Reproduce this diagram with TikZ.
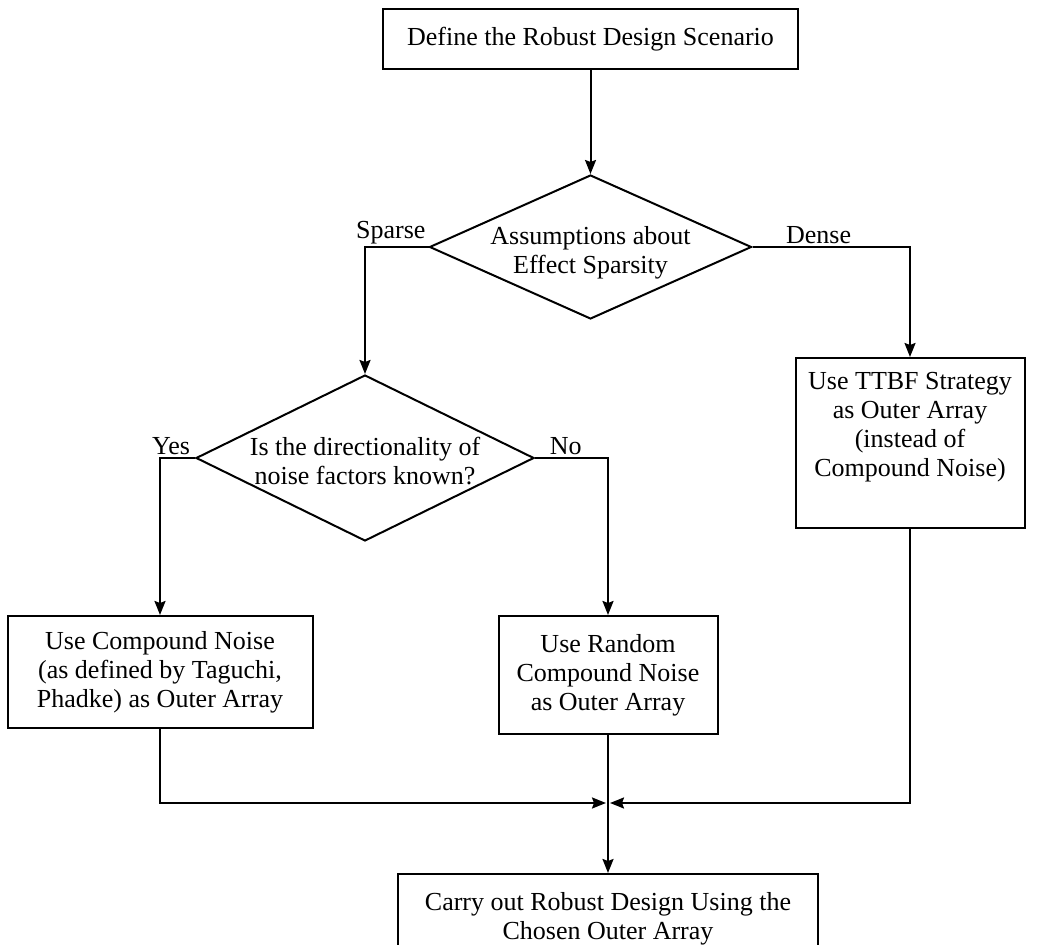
\documentclass[tikz,border=0pt]{standalone}
\usepackage{fontspec}
\setmainfont{Liberation Serif}
\usetikzlibrary{positioning,shapes.geometric,arrows.meta}

\begin{document}
\begin{tikzpicture}[
    font=\fontsize{13}{14.5}\selectfont,
    line width=1pt,
    >={Stealth[length=7pt,width=5.5pt,inset=1pt]},
    process/.style={draw, rectangle, align=center, inner sep=0pt},
    decision/.style={draw, diamond, inner sep=0pt},
    branch/.style={inner sep=1pt}
  ]
  \useasboundingbox (0,0) rectangle (522pt,-472.5pt);

  \node[process, minimum width=207.5pt, minimum height=30pt] (define) at (295.25pt,-19.5pt) {Define the Robust Design Scenario};
  \node[decision, minimum width=161pt, minimum height=72pt, below=52pt of define] (sparsity) {};
  \node[align=center] (sparsitytext) at ([yshift=-3pt]sparsity.center) {Assumptions about\\Effect Sparsity};

  \node[decision, minimum width=169pt, minimum height=83pt, below=63.5pt of sparsity.west, xshift=-31.75pt] (directional) {};
  \node[align=center] (directionaltext) at ([yshift=-1.5pt]directional.center) {Is the directionality of\\noise factors known?};

  \node[process, minimum width=114.5pt, minimum height=85pt, text depth=19pt, below=55pt of sparsity.east, xshift=78.75pt] (ttbf) {Use TTBF Strategy\\as Outer Array\\(instead of\\Compound Noise)};
  \node[process, minimum width=152.5pt, minimum height=56pt, below=78.5pt of directional.west, xshift=-17.5pt] (compound) {Use Compound Noise\\(as defined by Taguchi,\\Phadke) as Outer Array};
  \node[process, minimum width=109.5pt, minimum height=59pt, below=78.5pt of directional.east, xshift=36.5pt] (random) {Use Random\\Compound Noise\\as Outer Array};

  \coordinate[below=34pt of random.south] (junction);
  \node[process, minimum width=210pt, inner ysep=9pt, below=69pt of random.south] (carryout) {Carry out Robust Design Using the\\Chosen Outer Array};

  %define>sparsity
  \draw[->] (define.south) -- (sparsity.north);

  %sparsity>branches
  \draw[->] (sparsity.west) -| node[pos=0, anchor=south east, branch] (sparselabel) {Sparse} (directional.north);
  \draw[->] (sparsity.east) -| node[pos=0.21, anchor=south, branch] (denselabel) {Dense} (ttbf.north);

  %directional>branches
  \draw[->] (directional.west) -| node[pos=0, anchor=south east, branch, xshift=-1pt] (yeslabel) {Yes} (compound.north);
  \draw[->] (directional.east) -| node[pos=0.21, anchor=south, branch] (nolabel) {No} (random.north);

  %merge
  \draw[->, shorten >=1pt] (compound.south) |- (junction);
  \draw[->, shorten >=1pt] (ttbf.south) |- (junction);
  \draw[->] (random.south) -- (carryout.north);
\end{tikzpicture}
\end{document}
